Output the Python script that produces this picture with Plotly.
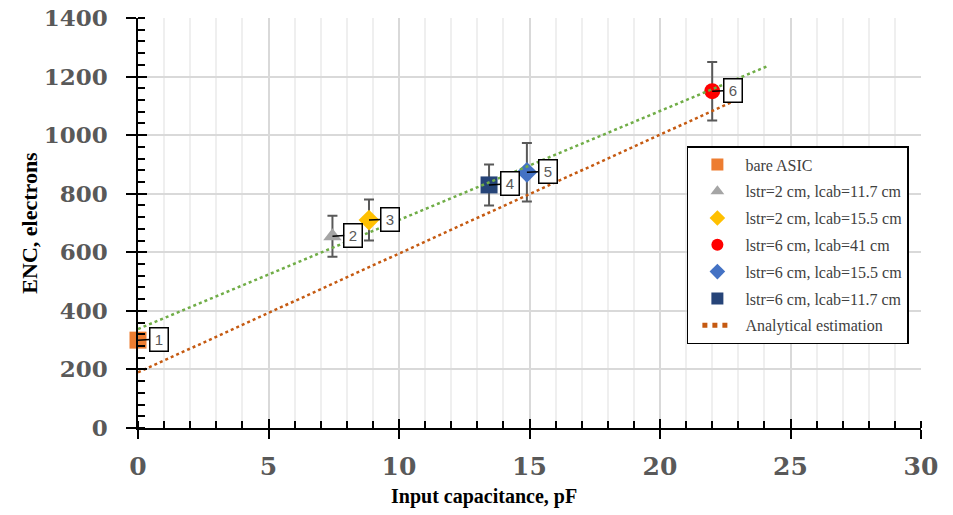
import plotly.graph_objects as go

# ---- data ----
series_names = ["bare ASIC", "lstr=2 cm, lcab=11.7 cm", "lstr=2 cm, lcab=15.5 cm",
                "lstr=6 cm, lcab=41 cm", "lstr=6 cm, lcab=15.5 cm", "lstr=6 cm, lcab=11.7 cm"]
capacitance = [0.0, 7.45, 8.85, 22.0, 14.9, 13.45]
enc_values = [300, 655, 710, 1150, 873, 830]
enc_errors = [0, 70, 70, 100, 100, 70]
point_labels = ["1", "2", "3", "6", "5", "4"]

trend_x = [0.0, 24.1]
trend_y = [338, 1235]
analytic_x = [0.0, 22.8]
analytic_y = [190, 1115]

x_ticks = [0, 5, 10, 15, 20, 25, 30]
y_ticks = [0, 200, 400, 600, 800, 1000, 1200, 1400]

# ---- styles ----
colors = ["#ED7D31", "#A5A5A5", "#FFC000", "#FF0000", "#4472C4", "#264478"]
symbols = ["square", "triangle-up", "diamond", "circle", "diamond", "square"]
sizes = [17, 16, 16, 16, 16, 17]
pad = "\u00a0\u00a0"

fig = go.Figure()

for i, name in enumerate(series_names):
    fig.add_trace(go.Scatter(
        x=[capacitance[i]], y=[enc_values[i]], mode="markers", name=pad + name,
        marker=dict(color=colors[i], symbol=symbols[i], size=sizes[i], line=dict(width=0)),
        error_y=dict(type="data", array=[enc_errors[i]], visible=enc_errors[i] > 0,
                     color="#595959", thickness=2, width=5),
        cliponaxis=False, legendgroup=f"g{i}", legendrank=i + 1,
    ))

fig.add_trace(go.Scatter(
    x=trend_x, y=trend_y, mode="lines", showlegend=False,
    line=dict(color="#70AD47", width=2.5, dash="dot"), hoverinfo="skip",
))
fig.add_trace(go.Scatter(
    x=analytic_x, y=analytic_y, mode="lines", name=pad + "Analytical estimation",
    line=dict(color="#C55A11", width=2.5, dash="dot"), legendgroup="g6", legendrank=7,
))

# dummy trace on overlay axes (for inside part of major ticks)
fig.add_trace(go.Scatter(x=[0], y=[0], xaxis="x2", yaxis="y2", mode="markers",
                         marker=dict(opacity=0), showlegend=False, hoverinfo="skip"))

# callout labels
for i in range(len(series_names)):
    fig.add_annotation(
        x=capacitance[i], y=enc_values[i], text=point_labels[i],
        showarrow=True, arrowhead=0, arrowwidth=1.5, arrowcolor="black",
        ax=21, ay=-1, standoff=0,
        bgcolor="white", bordercolor="black", borderwidth=1.5, borderpad=2,
        width=13, height=18,
        font=dict(family="Liberation Sans", size=15, color="#595959"),
    )

# x-axis title (offset to the left like the reference)
fig.add_annotation(
    x=(484 - 138) / 783, y=(428 - 497) / 410, xref="paper", yref="paper",
    xanchor="center", yanchor="middle", showarrow=False,
    text="<b>Input capacitance, pF</b>",
    font=dict(family="Liberation Serif", size=20, color="black"),
)

tickfont_y = dict(family="DejaVu Serif", size=23, color="#595959", weight="bold")
tickfont_x = dict(family="DejaVu Serif", size=25, color="#595959", weight="bold")

fig.update_layout(
    width=953, height=515,
    margin=dict(l=138, r=32, t=18, b=87),
    plot_bgcolor="white", paper_bgcolor="white",
    showlegend=True,
    legend=dict(
        x=0.701, y=(428 - 146) / 410, xanchor="left", yanchor="top",
        bgcolor="white", bordercolor="black", borderwidth=1.5,
        font=dict(family="Liberation Serif", size=16, color="#404040"),
        traceorder="grouped", tracegroupgap=3, itemsizing="constant",
        indentation=9,
    ),
    xaxis=dict(
        range=[0, 30], tickvals=x_ticks, ticktext=[str(v) for v in x_ticks],
        showline=True, linecolor="black", linewidth=1.5,
        ticks="outside", ticklen=9, tickwidth=1.5, tickcolor="black",
        tickfont=tickfont_x, ticklabelstandoff=6,
        showgrid=True, gridcolor="#d9d9d9", gridwidth=1.5,
        zeroline=False,
        minor=dict(dtick=1, ticks="inside", ticklen=7, tickwidth=1.5, tickcolor="black",
                   showgrid=True, gridcolor="#efefef", gridwidth=1.5),
        automargin=False,
    ),
    yaxis=dict(
        range=[0, 1400], tickvals=y_ticks, ticktext=[str(v) for v in y_ticks],
        showline=True, linecolor="black", linewidth=1.5,
        ticks="outside", ticklen=10, tickwidth=1.5, tickcolor="black",
        tickfont=tickfont_y, ticklabelstandoff=14,
        showgrid=True, gridcolor="#d9d9d9", gridwidth=1.5,
        zeroline=False,
        minor=dict(dtick=40, ticks="inside", ticklen=7, tickwidth=1.5, tickcolor="black",
                   showgrid=False),
        title=dict(text="<b>ENC, electrons</b>", standoff=0,
                   font=dict(family="Liberation Serif", size=22, color="black")),
        automargin=False,
    ),
    xaxis2=dict(overlaying="x", anchor="y2", range=[0, 30], tickvals=x_ticks,
                showticklabels=False, ticks="inside", ticklen=9, tickwidth=1.5,
                tickcolor="black", showgrid=False, zeroline=False, showline=False),
    yaxis2=dict(overlaying="y", anchor="x2", range=[0, 1400], tickvals=y_ticks,
                showticklabels=False, ticks="inside", ticklen=9, tickwidth=1.5,
                tickcolor="black", showgrid=False, zeroline=False, showline=False),
)

fig.write_html("out.html")
